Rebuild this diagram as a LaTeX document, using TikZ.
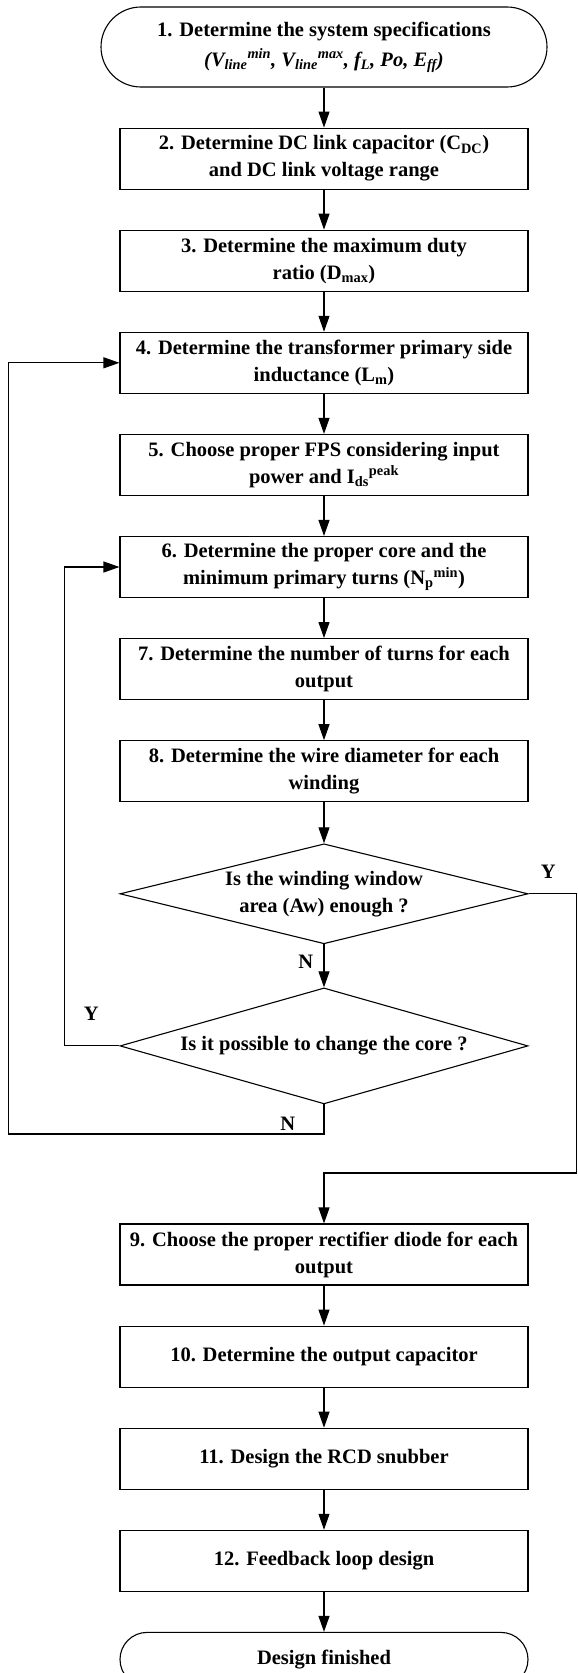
\documentclass[tikz,border=0pt]{standalone}
\usepackage{fontspec}
\setmainfont{Liberation Serif}
\usetikzlibrary{arrows.meta,positioning,shapes.geometric}

\begin{document}
\begin{tikzpicture}[
  node distance=40pt,
  box/.style={draw, line width=1.1pt, align=center, minimum width=408pt,
              minimum height=61pt, inner sep=3pt,
              font=\fontsize{20.5}{27}\selectfont\bfseries},
  term/.style={box, rounded corners=27pt},
  dec/.style={box, shape=diamond, inner sep=0pt, aspect=4},
  arr/.style={-{Triangle[length=16pt,width=11pt]}, line width=1.1pt},
  lbl/.style={inner sep=0pt, font=\fontsize{20.5}{27}\selectfont\bfseries}
]
\useasboundingbox (0,0) rectangle (578pt,-1673pt);
\node[term, minimum width=446pt, minimum height=80pt, rounded corners=40pt,
      font=\fontsize{20.5}{30}\selectfont\bfseries]
  (spec) at (324pt,-47pt) {1. Determine the system specifications\\
  \textit{(V\textsubscript{line}\textsuperscript{min}, V\textsubscript{line}\textsuperscript{max}, f\textsubscript{L}, Po, E\textsubscript{ff})}};
\node[box, below=of spec] (cdc)
  {2. Determine DC link capacitor (C\textsubscript{DC})\\and DC link voltage range};
\node[box, below=of cdc] (dmax)
  {3. Determine the maximum duty\\ratio (D\textsubscript{max})};
\node[box, below=of dmax] (lm)
  {4. Determine the transformer primary side\\inductance (L\textsubscript{m})};
\node[box, below=of lm] (fps)
  {5. Choose proper FPS considering input\\power and I\textsubscript{ds}\textsuperscript{peak}};
\node[box, below=of fps] (core)
  {6. Determine the proper core and the\\minimum primary turns (N\textsubscript{p}\textsuperscript{min})};
\node[box, below=of core] (turns)
  {7. Determine the number of turns for each\\output};
\node[box, below=of turns] (wire)
  {8. Determine the wire diameter for each\\winding};
\node[dec, below=41pt of wire, minimum height=100pt] (aw)
  {Is the winding window\\area (Aw) enough ?};
\node[dec, below=43pt of aw, minimum height=116pt, aspect=3.5] (chg)
  {Is it possible to change the core ?};
\node[box, below=119pt of chg] (diode)
  {9. Choose the proper rectifier diode for each\\output};
\node[box, below=of diode] (cap) {10. Determine the output capacitor};
\node[box, below=of cap] (rcd) {11. Design the RCD snubber};
\node[box, below=of rcd] (fb) {12. Feedback loop design};
\node[term, below=of fb, minimum height=54pt] (done) {Design finished};

\coordinate (outer) at (8.5pt,-1134pt);
\coordinate (ret) at (576.5pt,-1173pt);

\foreach \a/\b in {spec/cdc, cdc/dmax, dmax/lm, lm/fps, fps/core, core/turns,
                   turns/wire, wire/aw, aw/chg, diode/cap, cap/rcd, rcd/fb, fb/done}
  \draw[arr] (\a) -- (\b);
\draw[arr] (aw.east) -| (ret) -| (diode.north);
\draw[arr] (chg.west) -- ++(-55pt,0) |- (core.west);
\draw[arr] (chg.south) |- (outer) |- (lm.west);

\node[lbl, anchor=north west] (yes1) at ([xshift=12pt,yshift=29pt]aw.east) {Y};
\node[lbl, anchor=north east] (no1) at ([xshift=-10.5pt,yshift=-11pt]aw.south) {N};
\node[lbl, anchor=north east] (yes2) at ([xshift=-20.5pt,yshift=39pt]chg.west) {Y};
\node[lbl, anchor=north east] (no2) at ([xshift=-28.5pt,yshift=-12pt]chg.south) {N};
\end{tikzpicture}
\end{document}
